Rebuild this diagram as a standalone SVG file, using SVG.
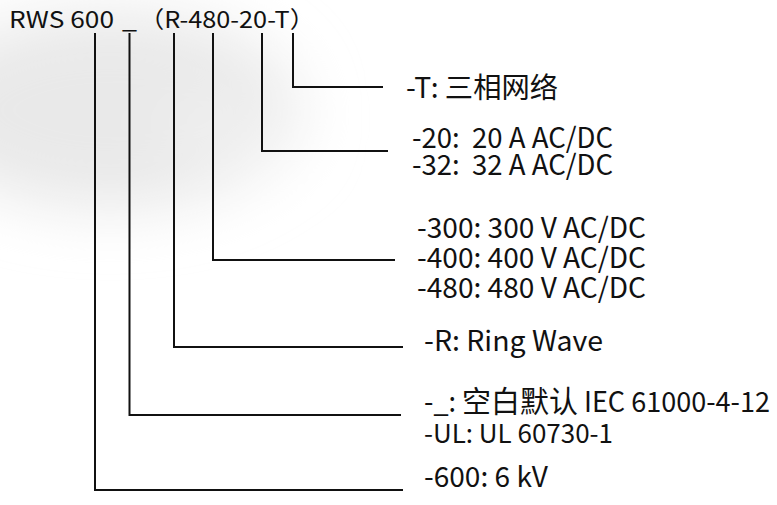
<svg xmlns="http://www.w3.org/2000/svg" width="777" height="505" viewBox="0 0 777 505">
<style>
  text { font-family: "Noto Sans CJK SC", "Noto Sans", sans-serif; fill: #111; }
  .t { font-size: 23px; }
  .l { font-size: 28px; }
  .s { font-size: 25.8px; }
  .c polyline { stroke: #111; stroke-width: 2; fill: none; }
</style>
<defs>
  <filter id="blur" x="-50%" y="-50%" width="200%" height="200%"><feGaussianBlur stdDeviation="30"/></filter>
</defs>
<rect width="777" height="505" fill="#ffffff"/>
<g id="bg" filter="url(#blur)">
  <ellipse cx="110" cy="110" rx="190" ry="100" fill="#e9e9e9"/>
  <ellipse cx="230" cy="130" rx="70" ry="40" fill="#efefef"/>
</g>
<g id="title">
  <text class="t" x="9" y="28" textLength="105" lengthAdjust="spacingAndGlyphs">RWS 600</text>
  <text class="t" x="122" y="28" textLength="15" lengthAdjust="spacingAndGlyphs">_</text>
  <text class="t" x="139" y="28" textLength="176" lengthAdjust="spacingAndGlyphs">（R-480-20-T）</text>
</g>
<g class="c" id="connectors">
  <polyline points="293,33 293,87 383,87"/>
  <polyline points="262,33 262,151 388,151"/>
  <polyline points="213,33 213,260 395,260"/>
  <polyline points="174,33 174,347 403,347"/>
  <polyline points="129.5,33 129.5,415 401,415"/>
  <polyline points="95,33 95,490 403,490"/>
</g>
<g id="label-t"><text class="l" x="406" y="98" textLength="152" lengthAdjust="spacingAndGlyphs">-T: 三相网络</text></g>
<g id="label-a"><text class="l" xml:space="preserve"><tspan x="412" y="148" textLength="201" lengthAdjust="spacingAndGlyphs">-20:  20 A AC/DC</tspan><tspan x="412" y="175" textLength="201" lengthAdjust="spacingAndGlyphs">-32:  32 A AC/DC</tspan></text></g>
<g id="label-v"><text class="l"><tspan x="417" y="238" textLength="229" lengthAdjust="spacingAndGlyphs">-300: 300 V AC/DC</tspan><tspan x="417" y="268" textLength="229" lengthAdjust="spacingAndGlyphs">-400: 400 V AC/DC</tspan><tspan x="417" y="298" textLength="229" lengthAdjust="spacingAndGlyphs">-480: 480 V AC/DC</tspan></text></g>
<g id="label-r"><text class="l" x="424" y="351" textLength="179" lengthAdjust="spacingAndGlyphs">-R: Ring Wave</text></g>
<g id="label-std"><text class="l" x="424" y="412" textLength="346" lengthAdjust="spacingAndGlyphs">-_: <tspan font-size="30">空白默认</tspan> IEC 61000-4-12</text><text class="s" x="424" y="443" textLength="189" lengthAdjust="spacingAndGlyphs">-UL: UL 60730-1</text></g>
<g id="label-kv"><text class="l" x="424" y="487" textLength="124" lengthAdjust="spacingAndGlyphs">-600: 6 kV</text></g>
</svg>
